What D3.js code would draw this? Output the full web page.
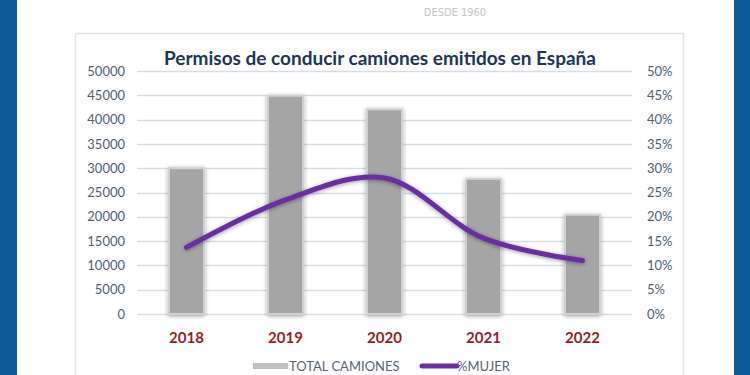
<!DOCTYPE html>
<html><head><meta charset="utf-8">
<script src="https://cdn.jsdelivr.net/npm/d3@7"></script>
<style>
html,body{margin:0;padding:0;background:#fff;}
svg{display:block;}
</style></head>
<body>
<svg id="chart" width="750" height="375"></svg>
<script>
const years = ["2018","2019","2020","2021","2022"];
const totalCamiones = [30000, 44900, 42100, 27800, 20400];
const pctMujer = [13.7, 23.5, 28.0, 15.6, 11.0];
const leftTicks = [0,5000,10000,15000,20000,25000,30000,35000,40000,45000,50000];
const rightTicks = [0,5,10,15,20,25,30,35,40,45,50];
const titleText = "Permisos de conducir camiones emitidos en España";
const legendLabels = ["TOTAL CAMIONES", "%MUJER"];

const svg = d3.select("#chart");
const W = 750, H = 375;
const font = "Lato, 'Open Sans', sans-serif";

// background + blue side bands
svg.append("rect").attr("width",W).attr("height",H).attr("fill","#fff");
svg.append("rect").attr("x",0).attr("y",0).attr("width",17).attr("height",H).attr("fill","#0d5c99");
svg.append("rect").attr("x",734).attr("y",0).attr("width",16).attr("height",H).attr("fill","#0d5c99");

svg.append("text").attr("x",455).attr("y",16).attr("text-anchor","middle")
  .attr("font-family","'Liberation Sans Narrow','DejaVu Sans Condensed',sans-serif")
  .attr("font-size",11).attr("fill","#c4c4c4").text("DESDE 1960");

// chart panel
svg.append("rect").attr("x",75.5).attr("y",33.5).attr("width",608).attr("height",360)
  .attr("fill","#fff").attr("stroke","#dfe5ec").attr("stroke-width",1.5);

const defs = svg.append("defs");
const f = defs.append("filter").attr("id","shadow").attr("x","-30%").attr("y","-30%").attr("width","160%").attr("height","160%");
f.append("feGaussianBlur").attr("in","SourceAlpha").attr("stdDeviation",2).attr("result","b");
f.append("feOffset").attr("in","b").attr("dx",0).attr("dy",1).attr("result","o");
f.append("feComponentTransfer").attr("in","o").attr("result","s")
  .append("feFuncA").attr("type","linear").attr("slope",0.4);
const m = f.append("feMerge");
m.append("feMergeNode").attr("in","s");
m.append("feMergeNode").attr("in","SourceGraphic");

const plot = {left:137, right:632, top:71, bottom:314};
const x = d3.scaleBand().domain(years).range([plot.left, plot.right]).paddingInner(0.645).paddingOuter(0.3225);
const yL = d3.scaleLinear().domain([0,50000]).range([plot.bottom, plot.top]);
const yR = d3.scaleLinear().domain([0,50]).range([plot.bottom, plot.top]);

// gridlines
svg.append("g").selectAll("line").data(leftTicks).join("line")
  .attr("x1",plot.left).attr("x2",plot.right)
  .attr("y1",d=>Math.round(yL(d))+0.5).attr("y2",d=>Math.round(yL(d))+0.5)
  .attr("stroke","#d5dde8").attr("stroke-width",1.3);

// left axis
const axL = svg.append("g").attr("transform",`translate(${plot.left-12},0)`)
  .call(d3.axisLeft(yL).tickValues(leftTicks).tickSize(0).tickPadding(0).tickFormat(d3.format("d")));
axL.select(".domain").remove();
axL.selectAll("text").attr("font-family",font).attr("font-size",13).attr("fill","#4f5f73");

// right axis
const axR = svg.append("g").attr("transform",`translate(${plot.right+15},0)`)
  .call(d3.axisRight(yR).tickValues(rightTicks).tickSize(0).tickPadding(0).tickFormat(d=>d+"%"));
axR.select(".domain").remove();
axR.selectAll("text").attr("font-family",font).attr("font-size",13).attr("fill","#4f5f73");

// bars
svg.append("g").selectAll("rect").data(years).join("rect")
  .attr("x",d=>x(d)).attr("width",x.bandwidth())
  .attr("y",(d,i)=>yL(totalCamiones[i])).attr("height",(d,i)=>plot.bottom-yL(totalCamiones[i]))
  .attr("fill","#a5a5a5").attr("stroke","#cfd2d6").attr("stroke-width",2)
  .attr("filter","url(#shadow)");

// line
const line = d3.line().x((d,i)=>x(years[i])+x.bandwidth()/2).y(d=>yR(d)).curve(d3.curveCatmullRom.alpha(0.5));
svg.append("path").datum(pctMujer).attr("d",line).attr("fill","none")
  .attr("stroke","#6a2ea3").attr("stroke-width",5).attr("stroke-linecap","round")
  .attr("filter","url(#shadow)");

// category labels
const axX = svg.append("g").attr("transform",`translate(0,${plot.bottom+29})`)
  .call(d3.axisBottom(x).tickSize(0).tickPadding(0));
axX.select(".domain").remove();
axX.selectAll("text").attr("font-family",font).attr("font-size",15).attr("font-weight","bold")
  .attr("fill","#9c1d22").attr("dy",0);

// title
svg.append("text").attr("x",380).attr("y",65).attr("text-anchor","middle")
  .attr("font-family",font).attr("font-weight","bold").attr("font-size",19)
  .attr("fill","#1c355c").text(titleText);

// legend
const lg = svg.append("g");
lg.append("line").attr("x1",253).attr("x2",288).attr("y1",366).attr("y2",366)
  .attr("stroke","#bfbfbf").attr("stroke-width",6);
lg.append("text").attr("x",289).attr("y",371).attr("font-family",font).attr("font-size",13)
  .attr("fill","#57657a").text(legendLabels[0]);
lg.append("line").attr("x1",422).attr("x2",457).attr("y1",366).attr("y2",366)
  .attr("stroke","#6a2ea3").attr("stroke-width",5).attr("stroke-linecap","round");
lg.append("text").attr("x",457).attr("y",371).attr("font-family",font).attr("font-size",13)
  .attr("fill","#57657a").text(legendLabels[1]);
</script>
</body></html>
